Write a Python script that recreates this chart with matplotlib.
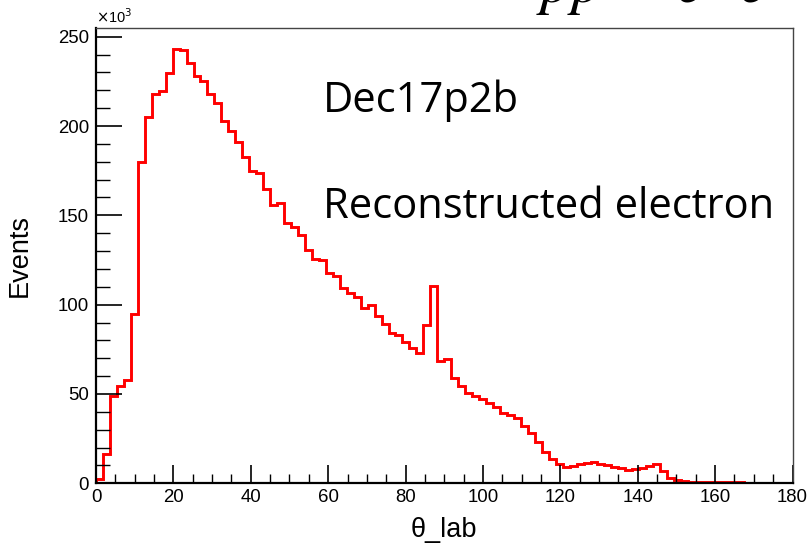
import numpy as np
import matplotlib
matplotlib.use("Agg")
import matplotlib.pyplot as plt
from matplotlib.ticker import MultipleLocator

# Histogram: theta_lab of reconstructed electrons, 100 bins over [0, 180] deg
x_min, x_max, n_bins = 0.0, 180.0, 100
# Events per bin, in units of 10^3
events_k = [
    2.6, 16.6, 49.0, 54.4, 57.8, 94.8, 180.0, 205.0, 218.0, 219.7,
    229.4, 243.3, 242.5, 235.0, 228.0, 225.0, 218.0, 212.7, 203.0, 197.0,
    191.0, 182.5, 174.7, 173.6, 164.5, 155.8, 157.1, 145.6, 143.3, 139.0,
    130.6, 125.8, 125.0, 117.9, 116.0, 109.2, 106.7, 104.5, 98.0, 99.7,
    93.7, 89.2, 84.0, 83.0, 79.3, 75.9, 73.1, 88.6, 110.5, 68.5,
    69.4, 58.8, 54.7, 50.7, 48.9, 47.0, 44.8, 42.5, 39.2, 38.2,
    36.4, 32.3, 28.3, 23.3, 17.7, 13.4, 10.8, 9.3, 9.9, 10.6,
    11.2, 11.8, 10.8, 10.2, 9.3, 8.4, 7.4, 8.0, 8.7, 9.9,
    10.8, 7.1, 3.1, 1.8, 1.3, 0.9, 0.8, 0.7, 0.7, 0.6,
    0.6, 0.5, 0.5, 0.4, 0.4, 0.4, 0.3, 0.3, 0.3, 0.3,
]
y_max = 254.7
x_title = "θ_lab"
y_title = "Events"
label_1 = "Dec17p2b"
label_2 = "Reconstructed electron"

edges = np.linspace(x_min, x_max, n_bins + 1)

W, H = 811, 548
fig = plt.figure(figsize=(W / 100, H / 100), dpi=100)
ax = fig.add_axes([96 / W, 1 - 483.3 / H, (792.5 - 96) / W, (483.3 - 28.3) / H])

ax.stairs(events_k, edges, baseline=0, color="#ff0000", linewidth=2.1)

ax.set_xlim(x_min, x_max)
ax.set_ylim(0, y_max)

for s in ["left", "bottom"]:
    ax.spines[s].set_linewidth(1.6)
    ax.spines[s].set_color("black")
for s in ["top", "right"]:
    ax.spines[s].set_linewidth(1.0)
    ax.spines[s].set_color("#444444")

ax.xaxis.set_major_locator(MultipleLocator(20))
ax.xaxis.set_minor_locator(MultipleLocator(5))
ax.yaxis.set_major_locator(MultipleLocator(50))
ax.yaxis.set_minor_locator(MultipleLocator(10))

tick_font = "Liberation Sans"
ax.tick_params(axis="both", which="both", direction="in", colors="black")
ax.tick_params(axis="x", which="major", length=13, width=1.2, pad=4, labelsize=13.4)
ax.tick_params(axis="x", which="minor", length=6.5, width=1.0)
ax.tick_params(axis="y", which="major", length=19, width=1.2, pad=5, labelsize=13.4)
ax.tick_params(axis="y", which="minor", length=10, width=1.0)
for lab in ax.get_xticklabels() + ax.get_yticklabels():
    lab.set_fontfamily(tick_font)

ax.set_xlabel(x_title, fontsize=19.5, fontfamily=tick_font, labelpad=8)
ax.set_ylabel(y_title, fontsize=19.5, fontfamily=tick_font, labelpad=18)

# x10^3 multiplier
fig.text(96 / W, 1 - 23 / H, r"$\times$10$^3$", fontsize=10.5,
         fontfamily=tick_font, ha="left", va="baseline")

# annotations in the plot
fig.text(323 / W, 1 - 112 / H, label_1, fontsize=30, fontfamily="Open Sans",
         ha="left", va="baseline")
fig.text(323 / W, 1 - 218 / H, label_2, fontsize=30, fontfamily="Open Sans",
         ha="left", va="baseline")

# title cut off at the top of the image (as in the reference)
plt.rcParams["mathtext.fontset"] = "stix"
fig.text(536 / W, 1 - 3 / H, r"$p\bar{p}\rightarrow e^{+}e^{-}$", fontsize=44,
         ha="left", va="baseline")

fig.savefig("out.png", dpi=100)
